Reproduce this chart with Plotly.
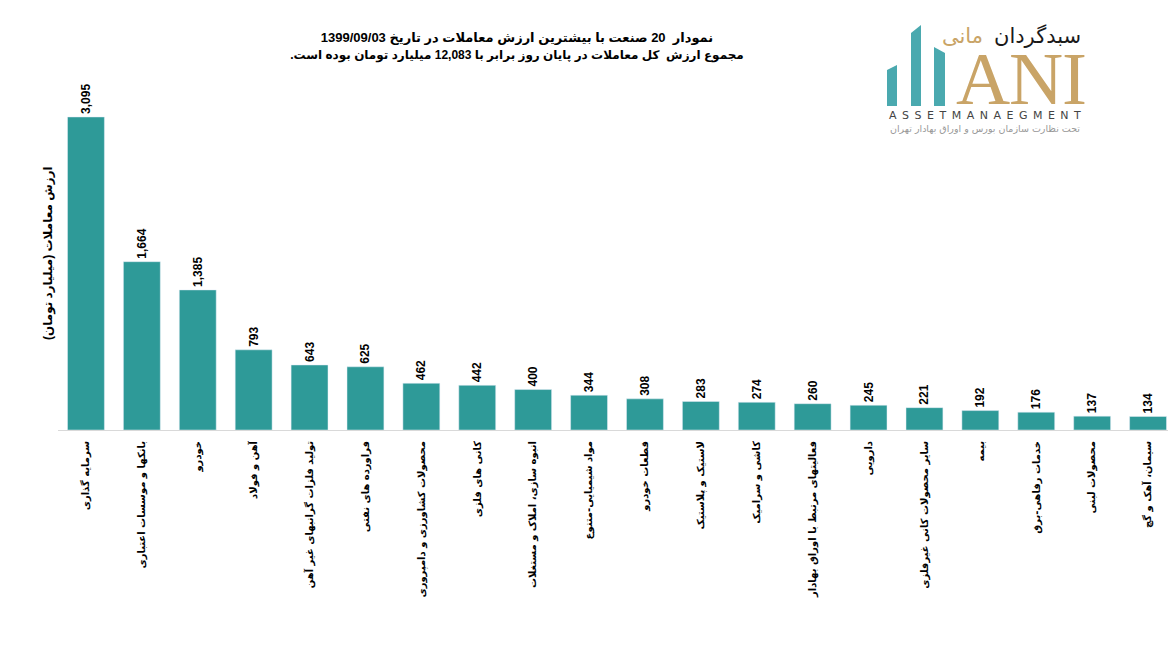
#!/usr/bin/env python3
"""Top 20 industries by trading value, 1399/09/03."""

import plotly.graph_objects as go

RLM = "\u200f"

# data
industries = [
    "سرمایه گذاری",
    "بانکها و موسسات اعتباری",
    "خودرو",
    "آهن و فولاد",
    "تولید فلزات گرانبهای غیر آهن",
    "فراورده های نفتی",
    "محصولات کشاورزی و دامپروری",
    "کانی های فلزی",
    "انبوه سازی، املاک و مستغلات",
    "مواد شیمیایی-متنوع",
    "قطعات خودرو",
    "لاستیک و پلاستیک",
    "کاشی و سرامیک",
    "فعالیتهای مرتبط با اوراق بهادار",
    "دارویی",
    "سایر محصولات کانی غیرفلزی",
    "بیمه",
    "خدمات رفاهی-برق",
    "محصولات لبنی",
    "سیمان، آهک و گچ",
]
trade_value = [3095, 1664, 1385, 793, 643, 625, 462, 442, 400, 344,
               308, 283, 274, 260, 245, 221, 192, 176, 137, 134]

title_line1 = "نمودار  20 صنعت با بیشترین ارزش معاملات در تاریخ 1399/09/03"
title_line2 = "مجموع ارزش  کل معاملات در پایان روز برابر با 12,083 میلیارد تومان بوده است."
y_title = "ارزش معاملات (میلیارد تومان)"

# the page body has an 8px margin, so the figure is drawn 8px in and 8px smaller
OFF = 8
W, H = 1176 - OFF, 648 - OFF
L, R, T, B = 50, 0, 67, 218
PW, PH = W - L - R, H - T - B

BAR = "#2E9A98"
GOLD = "#C9A467"
TEAL = "#4AA9AF"
FONT = "Liberation Sans, DejaVu Sans, Arial"


def px(x):
    # screen x -> paper x
    return (x - OFF - L) / PW


def py(y):
    # screen y -> paper y
    return (H - B - (y - OFF)) / PH


fig = go.Figure()

fig.add_trace(go.Bar(
    x=industries,
    y=trade_value,
    marker_color=BAR,
    texttemplate="%{y:,}",
    textposition="outside",
    textangle=-90,
    textfont=dict(size=12, color="black", family=FONT, weight="bold"),
    cliponaxis=False,
    hovertemplate="%{x}: %{y:,}<extra></extra>",
))

# logo: three teal columns
logo_bars = [
    [(887, 106), (887, 70), (897, 65), (897, 106)],
    [(911, 106), (911, 33), (921, 25), (921, 106)],
    [(934, 106), (934, 47), (945, 53), (945, 106)],
]
shapes = []
for pts in logo_bars:
    path = "M " + " L ".join(f"{px(a):.5f},{py(b):.5f}" for a, b in pts) + " Z"
    shapes.append(dict(type="path", xref="paper", yref="paper", path=path,
                       fillcolor=TEAL, line=dict(width=0), layer="above"))

annotations = [
    dict(text=RLM + y_title + RLM, x=px(48), y=py(253), textangle=-90,
         font=dict(size=12, family=FONT, color="black", weight="bold")),
    dict(text="سبدگردان", x=px(1037), y=py(36),
         font=dict(size=21, family="DejaVu Sans", color="#1a1a1a")),
    dict(text="مانی", x=px(962), y=py(36),
         font=dict(size=21, family="DejaVu Sans", color=GOLD)),
    dict(text="A", x=px(983), y=py(78),
         font=dict(size=75, family="Liberation Serif", color=GOLD)),
    dict(text="N", x=px(1036), y=py(78),
         font=dict(size=75, family="Liberation Serif", color=GOLD)),
    dict(text="I", x=px(1074), y=py(78),
         font=dict(size=75, family="Liberation Serif", color=GOLD)),
    dict(text="\u2002".join("ASSETMANAEGMENT"), x=px(985), y=py(116),
         font=dict(size=11, family="DejaVu Sans", color="#444444")),
    dict(text="تحت نظارت سازمان بورس و اوراق بهادار تهران", x=px(985), y=py(128),
         font=dict(size=9.5, family="DejaVu Sans", color="#999999")),
]
for a in annotations:
    a.update(xref="paper", yref="paper", showarrow=False,
             xanchor="center", yanchor="middle")

fig.update_layout(
    width=W,
    height=H,
    margin=dict(l=L, r=R, t=T, b=B, autoexpand=False),
    paper_bgcolor="white",
    plot_bgcolor="white",
    showlegend=False,
    bargap=0.34,
    title=dict(
        text=RLM + title_line1 + RLM + "<br>"
             + "<span style='font-size:12px'>" + RLM + title_line2 + RLM + "</span>",
        x=(517 - OFF) / W, xref="container", xanchor="center",
        y=1 - (42 - OFF) / H, yref="container", yanchor="middle",
        font=dict(size=13, family=FONT, color="black", weight="bold"),
    ),
    xaxis=dict(
        tickangle=-90,
        tickfont=dict(size=10, family="DejaVu Sans", color="black", weight="bold"),
        showline=True, linecolor="#D9D9D9", linewidth=1,
        ticks="", ticklabelstandoff=6, automargin=False,
        showgrid=False, zeroline=False,
    ),
    yaxis=dict(
        range=[0, 3510], visible=False, showgrid=False, zeroline=False,
        automargin=False,
    ),
    shapes=shapes,
    annotations=annotations,
)

fig.write_html("out.html")
